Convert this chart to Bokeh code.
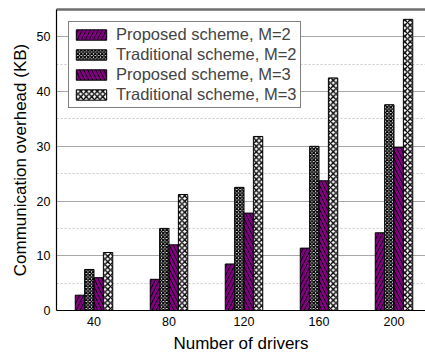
from bokeh.plotting import figure
from bokeh.models import (Range1d, FixedTicker, SingleIntervalTicker, LinearAxis,
                          Legend, LegendItem, ColumnDataSource)
from bokeh.embed import file_html
from bokeh.resources import INLINE

drivers = ["40", "80", "120", "160", "200"]
proposed_m2 = [2.8, 5.7, 8.5, 11.4, 14.2]
traditional_m2 = [7.5, 15.0, 22.5, 30.0, 37.6]
proposed_m3 = [6.0, 12.0, 17.8, 23.7, 29.8]
traditional_m3 = [10.6, 21.2, 31.8, 42.5, 53.2]
series_names = ["Proposed scheme, M=2", "Traditional scheme, M=2",
                "Proposed scheme, M=3", "Traditional scheme, M=3"]
series_values = [proposed_m2, traditional_m2, proposed_m3, traditional_m3]

FONT = "Liberation Sans"
PURPLE = "#800080"
styles = [
    dict(fill_color=PURPLE, hatch_pattern="/", hatch_color="black", hatch_scale=8, hatch_weight=0.9),
    dict(fill_color="white", hatch_pattern="x", hatch_color="black", hatch_scale=3.5, hatch_weight=1.4),
    dict(fill_color=PURPLE, hatch_pattern="\\", hatch_color="black", hatch_scale=8, hatch_weight=0.9),
    dict(fill_color="white", hatch_pattern="x", hatch_color="black", hatch_scale=5.5, hatch_weight=1.4),
]
offsets = [-0.1875, -0.0625, 0.0625, 0.1875]
bar_w = 0.125

p = figure(width=425, height=356, output_backend="svg", toolbar_location=None,
           x_range=Range1d(0.5, 5.42), y_range=Range1d(0, 55),
           min_border_left=56, min_border_right=0, min_border_top=9, min_border_bottom=46)
p.outline_line_color = None
p.background_fill_color = "white"
p.border_fill_color = "white"

positions = list(range(1, len(drivers) + 1))
items = []
for name, vals, st, off in zip(series_names, series_values, styles, offsets):
    src = ColumnDataSource(dict(x=[x + off for x in positions], top=vals))
    r = p.vbar(x="x", top="top", width=bar_w, source=src, line_color="black", line_width=1, **st)
    items.append(LegendItem(label=name, renderers=[r]))

# axes
p.xaxis.ticker = FixedTicker(ticks=positions)
p.xaxis.major_label_overrides = {pos: d for pos, d in zip(positions, drivers)}
p.xaxis.axis_label = "Number of drivers"
p.yaxis.axis_label = "Communication overhead (KB)"
p.yaxis.ticker = SingleIntervalTicker(interval=10, num_minor_ticks=2)
for ax in (p.xaxis, p.yaxis):
    ax.axis_line_color = "black"
    ax.axis_line_width = 1.2
    ax.major_tick_line_color = None
    ax.minor_tick_line_color = None
    ax.major_tick_out = 0
    ax.major_tick_in = 0
    ax.minor_tick_out = 0
    ax.minor_tick_in = 0
    ax.major_label_text_font = FONT
    ax.major_label_text_font_size = "12.5px"
    ax.major_label_text_color = "black"
    ax.axis_label_text_font = FONT
    ax.axis_label_text_font_size = "17px"
    ax.axis_label_text_font_style = "normal"
    ax.axis_label_text_color = "black"
p.xaxis.major_label_standoff = 6
p.xaxis.axis_label_standoff = 5
p.yaxis.major_label_standoff = 6
p.yaxis.axis_label_standoff = 4

top_axis = LinearAxis(ticker=FixedTicker(ticks=[]),
                      major_tick_line_color=None, minor_tick_line_color=None,
                      major_tick_out=0, major_tick_in=0, minor_tick_out=0, minor_tick_in=0,
                      axis_line_color="#6e6e6e", axis_line_width=2.5)
p.add_layout(top_axis, "above")

# grids
p.xgrid.grid_line_color = None
p.ygrid.grid_line_color = "#a8a8a8"
p.ygrid.grid_line_width = 1
p.ygrid.minor_grid_line_color = "#c8c8c8"
p.ygrid.minor_grid_line_dash = "2 2"
p.ygrid.minor_grid_line_width = 1

legend = Legend(items=items, location="top_left", margin=12,
                glyph_width=38, glyph_height=13, label_standoff=6,
                label_text_font=FONT, label_text_font_size="16.5px",
                label_height=13, spacing=1, padding=3,
                border_line_color="black", border_line_width=1,
                background_fill_color="white", background_fill_alpha=1)
p.add_layout(legend)

open("out.html", "w").write(file_html(p, INLINE))
